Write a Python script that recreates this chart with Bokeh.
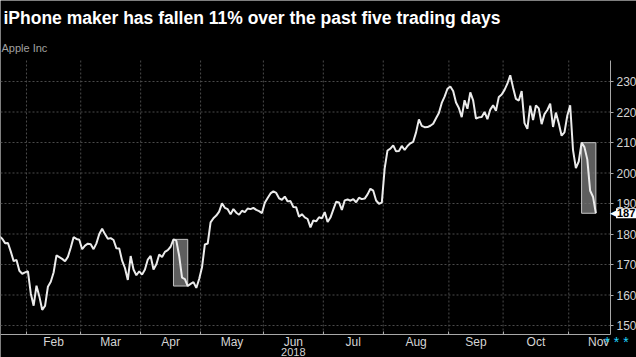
import pandas as pd
from bokeh.plotting import figure
from bokeh.models import (Range1d, FixedTicker, CustomJSTickFormatter, Label, ColumnDataSource)
from bokeh.embed import file_html
from bokeh.resources import INLINE

# ---- data (Apple Inc daily close) ----
dates = [
    "2018-01-17", "2018-01-18", "2018-01-19", "2018-01-22", "2018-01-23", "2018-01-24", "2018-01-25",
    "2018-01-26", "2018-01-29", "2018-01-30", "2018-01-31",
    "2018-02-01", "2018-02-02", "2018-02-05", "2018-02-06", "2018-02-07", "2018-02-08", "2018-02-09",
    "2018-02-12", "2018-02-13", "2018-02-14", "2018-02-15", "2018-02-16", "2018-02-20", "2018-02-21",
    "2018-02-22", "2018-02-23", "2018-02-26", "2018-02-27", "2018-02-28",
    "2018-03-01", "2018-03-02", "2018-03-05", "2018-03-06", "2018-03-07", "2018-03-08", "2018-03-09",
    "2018-03-12", "2018-03-13", "2018-03-14", "2018-03-15", "2018-03-16", "2018-03-19", "2018-03-20",
    "2018-03-21", "2018-03-22", "2018-03-23", "2018-03-26", "2018-03-27", "2018-03-28", "2018-03-29",
    "2018-04-02", "2018-04-03", "2018-04-04", "2018-04-05", "2018-04-06", "2018-04-09", "2018-04-10",
    "2018-04-11", "2018-04-12", "2018-04-13", "2018-04-16", "2018-04-17", "2018-04-18", "2018-04-19",
    "2018-04-20", "2018-04-23", "2018-04-24", "2018-04-25", "2018-04-26", "2018-04-27", "2018-04-30",
    "2018-05-01", "2018-05-02", "2018-05-03", "2018-05-04", "2018-05-07", "2018-05-08", "2018-05-09",
    "2018-05-10", "2018-05-11", "2018-05-14", "2018-05-15", "2018-05-16", "2018-05-17", "2018-05-18",
    "2018-05-21", "2018-05-22", "2018-05-23", "2018-05-24", "2018-05-25", "2018-05-29", "2018-05-30",
    "2018-05-31",
    "2018-06-01", "2018-06-04", "2018-06-05", "2018-06-06", "2018-06-07", "2018-06-08", "2018-06-11",
    "2018-06-12", "2018-06-13", "2018-06-14", "2018-06-15", "2018-06-18", "2018-06-19", "2018-06-20",
    "2018-06-21", "2018-06-22", "2018-06-25", "2018-06-26", "2018-06-27", "2018-06-28", "2018-06-29",
    "2018-07-02", "2018-07-03", "2018-07-05", "2018-07-06", "2018-07-09", "2018-07-10", "2018-07-11",
    "2018-07-12", "2018-07-13", "2018-07-16", "2018-07-17", "2018-07-18", "2018-07-19", "2018-07-20",
    "2018-07-23", "2018-07-24", "2018-07-25", "2018-07-26", "2018-07-27", "2018-07-30", "2018-07-31",
    "2018-08-01", "2018-08-02", "2018-08-03", "2018-08-06", "2018-08-07", "2018-08-08", "2018-08-09",
    "2018-08-10", "2018-08-13", "2018-08-14", "2018-08-15", "2018-08-16", "2018-08-17", "2018-08-20",
    "2018-08-21", "2018-08-22", "2018-08-23", "2018-08-24", "2018-08-27", "2018-08-28", "2018-08-29",
    "2018-08-30", "2018-08-31",
    "2018-09-04", "2018-09-05", "2018-09-06", "2018-09-07", "2018-09-10", "2018-09-11", "2018-09-12",
    "2018-09-13", "2018-09-14", "2018-09-17", "2018-09-18", "2018-09-19", "2018-09-20", "2018-09-21",
    "2018-09-24", "2018-09-25", "2018-09-26", "2018-09-27", "2018-09-28",
    "2018-10-01", "2018-10-02", "2018-10-03", "2018-10-04", "2018-10-05", "2018-10-08", "2018-10-09",
    "2018-10-10", "2018-10-11", "2018-10-12", "2018-10-15", "2018-10-16", "2018-10-17", "2018-10-18",
    "2018-10-19", "2018-10-22", "2018-10-23", "2018-10-24", "2018-10-25", "2018-10-26", "2018-10-29",
    "2018-10-30", "2018-10-31",
    "2018-11-01", "2018-11-02", "2018-11-05", "2018-11-06", "2018-11-07", "2018-11-08", "2018-11-09",
    "2018-11-12", "2018-11-13", "2018-11-14",
]
close = [
    179.10, 179.26, 178.46, 177.00, 177.04, 174.22, 171.11, 171.51, 167.96, 166.97, 167.43,
    167.78, 160.50, 156.49, 163.03, 159.54, 155.15, 156.41, 162.71, 164.34, 167.37, 172.99, 172.43,
    171.85, 171.07, 172.50, 175.50, 178.97, 178.39, 178.12,
    175.00, 176.21, 176.82, 176.67, 175.03, 176.94, 179.98, 181.72, 179.97, 178.44, 178.65, 178.02,
    175.30, 175.24, 171.27, 168.85, 164.94, 172.77, 168.34, 166.48, 167.78,
    166.68, 168.39, 171.61, 172.80, 168.38, 170.05, 173.25, 172.44, 174.14, 174.73, 175.82, 178.24,
    177.84, 172.80, 165.72, 165.24, 162.94, 163.65, 164.22, 162.32, 165.26,
    169.10, 176.57, 176.89, 183.83, 185.16, 186.05, 187.36, 190.04, 188.59, 188.15, 186.44, 188.18,
    186.99, 186.31, 187.63, 187.16, 188.36, 188.15, 188.58, 187.90, 187.50, 186.87,
    190.24, 191.83, 193.31, 193.98, 193.46, 191.70, 191.23, 192.28, 190.70, 190.80, 188.84, 188.74,
    185.69, 186.50, 185.46, 184.92, 182.17, 184.43, 184.16, 185.50, 185.11,
    187.18, 183.92, 185.40, 187.97, 190.58, 190.35, 187.88, 191.03, 191.33, 190.91, 191.45, 190.40,
    191.88, 191.44, 191.61, 193.00, 194.82, 194.21, 190.98, 189.91, 190.29,
    201.50, 207.39, 207.99, 209.07, 207.11, 207.25, 208.88, 207.53, 208.87, 209.75, 210.24, 213.32,
    217.58, 215.46, 215.04, 215.05, 215.49, 216.16, 217.94, 219.70, 222.98, 225.03, 227.63,
    228.36, 226.87, 223.10, 221.30, 218.33, 223.85, 221.07, 226.41, 223.84, 217.88, 218.24, 218.37,
    220.03, 217.66, 220.79, 222.19, 220.42, 224.95, 225.74,
    227.26, 229.28, 232.07, 227.99, 224.29, 223.77, 226.87, 216.36, 214.45, 222.11, 217.36, 222.15,
    221.19, 216.02, 219.31, 220.65, 222.73, 215.09, 219.80, 216.30, 212.24, 213.30, 218.86,
    222.22, 207.48, 201.59, 203.77, 209.95, 208.49, 204.47, 194.17, 192.23, 186.80,
]

# five-trading-day drops that are boxed
box_start = ["2018-04-17", "2018-11-07"]
box_end = ["2018-04-24", "2018-11-14"]

# x axis runs on trading days: month names and trading days in each month
month_names = ["Feb", "Mar", "Apr", "May", "Jun", "Jul", "Aug", "Sep", "Oct", "Nov"]
month_numbers = [2, 3, 4, 5, 6, 7, 8, 9, 10, 11]
month_trading_days = [19, 21, 21, 22, 21, 21, 23, 19, 23, 21]
y_ticks = [150, 160, 170, 180, 190, 200, 210, 220, 230]

subtitle = "iPhone maker has fallen 11% over the past five trading days"
source_name = "Apple Inc"
year_label = "2018"
year_label_month = "Jun"

# ---- layout constants ----
W, H = 636, 357
# plot area in trading-day index (left edge, axis, right edge of view) and price
AREA_LEFT_I, AXIS_I, VIEW_RIGHT_I = 1.39, 215.12, 224.24
AREA_BOTTOM, AREA_TOP = 147.05, 236.9
VIEW_BOTTOM, VIEW_TOP = 139.51, 256.56

dt = pd.to_datetime(pd.Series(dates))
idx = list(range(len(dates)))
df = pd.DataFrame({"x": idx, "y": close})

# month boundaries (half a day before each month's first session) and label centres
bounds = [float(dt[dt.dt.month == m].index[0]) - 0.5 for m in month_numbers]
mids = [b + n / 2.0 for b, n in zip(bounds, month_trading_days)]

FONT = "Liberation Sans"
AX = "#a8a8a8"
TXT = "#d4d4d4"
GRID = "#4a4a4a"

p = figure(width=W, height=H, y_axis_location="right",
           x_range=Range1d(AREA_LEFT_I, VIEW_RIGHT_I), y_range=Range1d(VIEW_BOTTOM, VIEW_TOP),
           output_backend="svg", toolbar_location=None,
           background_fill_color="black", border_fill_color="black")
p.min_border = 0
p.min_border_left = p.min_border_right = p.min_border_top = p.min_border_bottom = 0
p.outline_line_color = None
p.xgrid.visible = False
p.ygrid.visible = False

# dotted grid, limited to the plot area
p.segment(x0=[AREA_LEFT_I] * len(y_ticks), x1=[AXIS_I] * len(y_ticks), y0=y_ticks, y1=y_ticks,
          line_color=GRID, line_dash="2 2", line_width=1)
p.segment(x0=bounds, x1=bounds, y0=[AREA_BOTTOM] * len(bounds), y1=[AREA_TOP] * len(bounds),
          line_color=GRID, line_dash="2 2", line_width=1)

# y axis (right)
ya = p.yaxis[0]
ya.fixed_location = AXIS_I
ya.bounds = (AREA_BOTTOM, AREA_TOP)
ya.ticker = FixedTicker(ticks=y_ticks)
ya.axis_line_color = AX
ya.major_tick_line_color = AX
ya.major_tick_out = 3
ya.major_tick_in = 0
ya.minor_tick_line_color = None
ya.major_label_standoff = 3
ya.major_label_text_color = TXT
ya.major_label_text_font = FONT
ya.major_label_text_font_size = "12px"

# x axis
xa = p.xaxis[0]
xa.fixed_location = AREA_BOTTOM
xa.bounds = (AREA_LEFT_I, AXIS_I)
xa.ticker = FixedTicker(ticks=mids, minor_ticks=bounds)
xa.formatter = CustomJSTickFormatter(args=dict(pos=mids, names=month_names), code="""
    for (let k = 0; k < pos.length; k++) { if (Math.abs(pos[k] - tick) < 1e-6) return names[k]; }
    return "";
""")
xa.axis_line_color = AX
xa.major_tick_line_color = None
xa.minor_tick_line_color = AX
xa.minor_tick_in = 3
xa.minor_tick_out = 0
xa.major_label_standoff = -6
xa.major_label_text_color = TXT
xa.major_label_text_font = FONT
xa.major_label_text_font_size = "12px"

# highlight boxes
lefts, rights, tops, bottoms = [], [], [], []
for s, e in zip(box_start, box_end):
    i0 = int(dt[dt == pd.Timestamp(s)].index[0]); i1 = int(dt[dt == pd.Timestamp(e)].index[0])
    seg = close[i0:i1 + 1]
    lefts.append(i0); rights.append(i1); tops.append(max(seg)); bottoms.append(min(seg))
p.quad(left=lefts, right=rights, top=tops, bottom=bottoms,
       fill_color="#767676", fill_alpha=0.8, line_color="#c4c4c4", line_width=1)

# price line
p.line(x="x", y="y", source=ColumnDataSource(df), line_color="#ebebeb", line_width=2)

# texts (screen units: from the canvas' bottom-left corner)
p.add_layout(Label(x=3, y=H - 17.9, x_units="screen", y_units="screen", text=subtitle,
                   text_color="white", text_font=FONT, text_font_style="bold",
                   text_font_size="17.5px", text_baseline="middle", text_align="left"))
p.add_layout(Label(x=1, y=H - 47.9, x_units="screen", y_units="screen", text=source_name,
                   text_color="#a0a0a0", text_font=FONT, text_font_size="11px",
                   text_baseline="middle", text_align="left"))
p.add_layout(Label(x=mids[month_names.index(year_label_month)], y=H - 351.5, x_units="data",
                   y_units="screen", text=year_label, text_color=TXT, text_font=FONT,
                   text_font_size="11px", text_baseline="middle", text_align="center"))
p.add_layout(Label(x=604, y=H - 341, x_units="screen", y_units="screen", text="* * *",
                   text_color="#1fd6ff", text_font=FONT, text_font_size="14px",
                   text_baseline="middle", text_align="left"))

# last price tag
p.add_layout(Label(x=609.5, y=close[-1], x_units="screen", y_units="data", text="◀",
                   text_color="white", text_font="DejaVu Sans", text_font_size="9px",
                   text_baseline="middle", text_align="left"))
p.add_layout(Label(x=615.5, y=close[-1], x_units="screen", y_units="data",
                   text=f"{close[-1]:.0f}", text_color="black", text_font=FONT,
                   text_font_size="11px", text_font_style="bold", text_baseline="middle",
                   text_align="left", background_fill_color="white", padding=1))

open("out.html", "w").write(file_html(p, INLINE))
